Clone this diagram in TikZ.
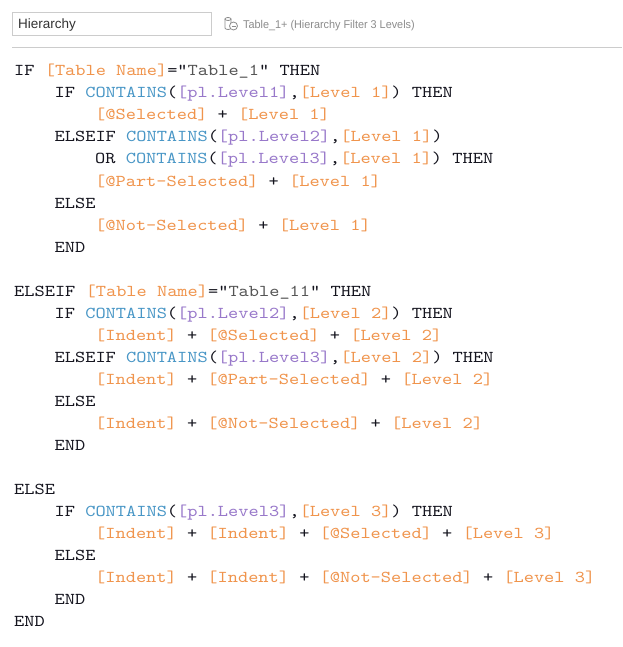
\documentclass[tikz,border=0pt]{standalone}
\usepackage{fontspec}
\setmainfont{Liberation Sans}
\newfontfamily\codefont[Extension=.otf,FakeStretch=1.171]{lmmono10-regular}
\newfontfamily\hdrfont[FakeStretch=0.96]{Liberation Sans}
\definecolor{kwc}{HTML}{14141E}
\definecolor{fnc}{HTML}{4896C6}
\definecolor{pac}{HTML}{9878CA}
\definecolor{flc}{HTML}{F0944C}
\definecolor{stc}{HTML}{555555}
\definecolor{rulec}{HTML}{CCCCCC}
\definecolor{hdrc}{HTML}{8C8C8C}
\newcommand{\kw}[1]{\textcolor{kwc}{#1}}
\newcommand{\fn}[1]{\textcolor{fnc}{#1}}
\newcommand{\pa}[1]{\textcolor{pac}{#1}}
\newcommand{\fl}[1]{\textcolor{flc}{#1}}
\newcommand{\st}[1]{\textcolor{stc}{#1}}
\begin{document}
\begin{tikzpicture}[x=1pt,y=-1pt,
  code/.style={anchor=base west,inner sep=0pt,text=kwc,
    font=\codefont\fontsize{16.6}{22}\selectfont}]
\useasboundingbox (0,0) rectangle (622,647);
\fill[white] (0,0) rectangle (622,647);
% header
\node[draw=rulec,line width=0.8pt,fill=white,minimum width=199pt,minimum height=23pt,
  anchor=north west,inner sep=0pt] (box) at (12,12.5) {};
\node[anchor=base west,inner sep=0pt,text=black!80,font=\fontsize{13.5}{16}\selectfont]
  (hname) at (18,29) {Hierarchy};
\begin{scope}[draw=hdrc,line width=0.8pt]
  \draw (228,19) ellipse (3pt and 1.5pt);
  \draw (225,19) -- (225,28) arc (180:360:3pt and 1.5pt) -- (231,19);
  \draw[fill=white] (233.5,26) circle (4pt);
  \draw (231.5,26) -- (235.5,26);
\end{scope}
\node[anchor=base west,inner sep=0pt,text=hdrc,font=\hdrfont\fontsize{11.3}{13}\selectfont]
  (hsrc) at (243,28.5) {Table\_1+ (Hierarchy Filter 3 Levels)};
\draw[rulec,line width=0.8pt] (12,47.5) coordinate (r0) -- (622,47.5) coordinate (r1);
% code
\node[code] (l0) at (14,76) {\kw{IF} \fl{[Table Name]}="\st{Table\_1}" \kw{THEN}};
\node[code] (l1) at (54.5,98) {\kw{IF} \fn{CONTAINS}(\pa{[pl.Level1]},\fl{[Level 1]}) \kw{THEN}};
\node[code] (l2) at (95,120) {\fl{[@Selected]} + \fl{[Level 1]}};
\node[code] (l3) at (54.5,142) {\kw{ELSEIF} \fn{CONTAINS}(\pa{[pl.Level2]},\fl{[Level 1]})};
\node[code] (l4) at (95,164) {\kw{OR} \fn{CONTAINS}(\pa{[pl.Level3]},\fl{[Level 1]}) \kw{THEN}};
\node[code] (l5) at (95,186) {\fl{[@Part-Selected]} + \fl{[Level 1]}};
\node[code] (l6) at (54.5,208) {\kw{ELSE}};
\node[code] (l7) at (95,230) {\fl{[@Not-Selected]} + \fl{[Level 1]}};
\node[code] (l8) at (54.5,252) {\kw{END}};
\node[code] (l10) at (14,296) {\kw{ELSEIF} \fl{[Table Name]}="\st{Table\_11}" \kw{THEN}};
\node[code] (l11) at (54.5,318) {\kw{IF} \fn{CONTAINS}(\pa{[pl.Level2]},\fl{[Level 2]}) \kw{THEN}};
\node[code] (l12) at (95,340) {\fl{[Indent]} + \fl{[@Selected]} + \fl{[Level 2]}};
\node[code] (l13) at (54.5,362) {\kw{ELSEIF} \fn{CONTAINS}(\pa{[pl.Level3]},\fl{[Level 2]}) \kw{THEN}};
\node[code] (l14) at (95,384) {\fl{[Indent]} + \fl{[@Part-Selected]} + \fl{[Level 2]}};
\node[code] (l15) at (54.5,406) {\kw{ELSE}};
\node[code] (l16) at (95,428) {\fl{[Indent]} + \fl{[@Not-Selected]} + \fl{[Level 2]}};
\node[code] (l17) at (54.5,450) {\kw{END}};
\node[code] (l19) at (14,494) {\kw{ELSE}};
\node[code] (l20) at (54.5,516) {\kw{IF} \fn{CONTAINS}(\pa{[pl.Level3]},\fl{[Level 3]}) \kw{THEN}};
\node[code] (l21) at (95,538) {\fl{[Indent]} + \fl{[Indent]} + \fl{[@Selected]} + \fl{[Level 3]}};
\node[code] (l22) at (54.5,560) {\kw{ELSE}};
\node[code] (l23) at (95,582) {\fl{[Indent]} + \fl{[Indent]} + \fl{[@Not-Selected]} + \fl{[Level 3]}};
\node[code] (l24) at (54.5,604) {\kw{END}};
\node[code] (l25) at (14,626) {\kw{END}};
\end{tikzpicture}
\end{document}
